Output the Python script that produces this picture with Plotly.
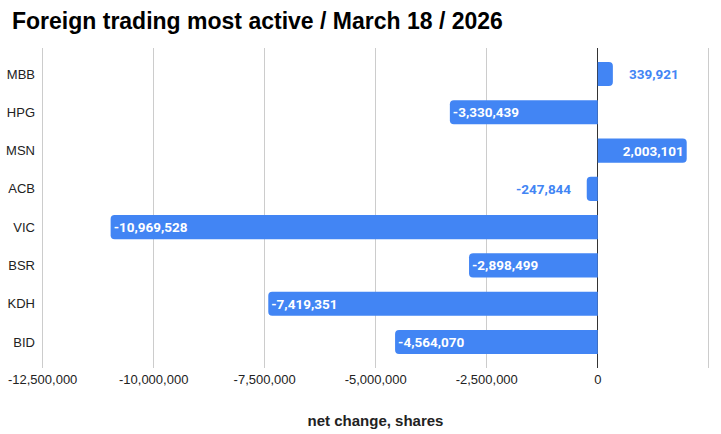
import plotly.graph_objects as go

tickers = ["MBB", "HPG", "MSN", "ACB", "VIC", "BSR", "KDH", "BID"]
net_change = [339921, -3330439, 2003101, -247844, -10969528, -2898499, -7419351, -4564070]
x_tick_vals = [-12500000, -10000000, -7500000, -5000000, -2500000, 0, 2500000]
x_tick_text = ["-12,500,000", "-10,000,000", "-7,500,000", "-5,000,000", "-2,500,000", "0", ""]

BLUE = "#4285F4"
SMALL = 1_000_000

labels = [f"{v:,}" for v in net_change]
inside_text = [lab if abs(v) >= SMALL else "" for lab, v in zip(labels, net_change)]

fig = go.Figure()
fig.add_trace(go.Bar(
    x=net_change, y=tickers, orientation="h",
    marker=dict(color=BLUE, line=dict(width=0)),
    text=inside_text, textposition="inside", insidetextanchor="end",
    constraintext="none",
    textfont=dict(family="Roboto", size=13.5, color="white", weight="bold"),
    hoverinfo="skip",
))

for lab, v, t in zip(labels, net_change, tickers):
    if abs(v) < SMALL:
        fig.add_annotation(
            x=v, y=t, xref="x", yref="y", text=f"<b>{lab}</b>", showarrow=False,
            xanchor="left" if v > 0 else "right",
            xshift=14 if v > 0 else -14,
            font=dict(family="Roboto", size=13.5, color=BLUE),
        )

fig.update_layout(
    width=721, height=434,
    margin=dict(l=40, r=10, t=48, b=66, autoexpand=False),
    paper_bgcolor="white", plot_bgcolor="white",
    bargap=0.37, barcornerradius=4,
    showlegend=False,
    title=dict(text="<b>Foreign trading most active / March 18 / 2026</b>",
               x=12 / 721, xanchor="left", xref="container",
               y=1 - 21 / 434, yanchor="middle", yref="container",
               font=dict(family="Liberation Sans, Arial", size=23, color="black")),
    font=dict(family="Liberation Sans, Arial", size=13, color="#222222"),
)
fig.update_xaxes(
    range=[-12560000, 2550000], tickvals=x_tick_vals, ticktext=x_tick_text,
    showgrid=True, gridcolor="#cccccc", gridwidth=1,
    zeroline=True, zerolinecolor="#333333", zerolinewidth=1,
    ticks="", ticklabelstandoff=2,
    tickfont=dict(family="Liberation Sans, Arial", size=13, color="#222222"),
    title=dict(text="<b>net change, shares</b>", standoff=29,
               font=dict(family="Liberation Sans, Arial", size=15, color="#222222")),
    showline=False, fixedrange=True, automargin=False,
)
fig.update_yaxes(
    range=[7.68, -0.68], showgrid=False, ticks="",
    tickfont=dict(family="Liberation Sans, Arial", size=13, color="#222222"),
    ticklabelstandoff=4, automargin=False,
)

fig.write_html("out.html", config={"displayModeBar": False},
               post_script="document.body.style.margin='0';")
